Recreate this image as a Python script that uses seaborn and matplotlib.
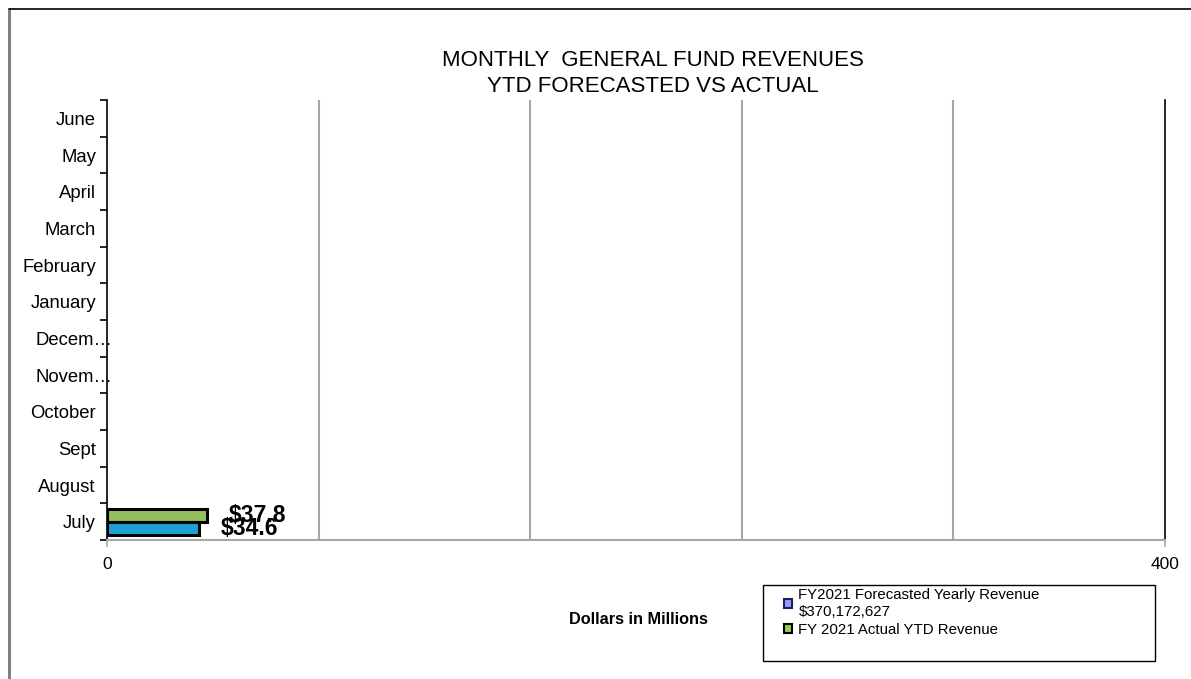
import matplotlib
matplotlib.use("Agg")
import matplotlib.pyplot as plt
import matplotlib.transforms as mtransforms
import seaborn as sns
import pandas as pd
import numpy as np
from matplotlib.patches import Patch, Rectangle

months = ["July", "August", "Sept", "October", "Novem\u2026", "Decem\u2026",
          "January", "February", "March", "April", "May", "June"]
forecast = [34.6, np.nan, np.nan, np.nan, np.nan, np.nan, np.nan, np.nan, np.nan, np.nan, np.nan, np.nan]
actual = [37.8, np.nan, np.nan, np.nan, np.nan, np.nan, np.nan, np.nan, np.nan, np.nan, np.nan, np.nan]
series_forecast = "FY2021 Forecasted Yearly Revenue\n$370,172,627"
series_actual = "FY 2021 Actual YTD Revenue"
x_ticks = [0, 400]

sns.set_theme(style="white")
plt.rcParams['font.family'] = ['Liberation Sans', 'DejaVu Sans']
plt.rcParams['text.color'] = 'black'
plt.rcParams['xtick.color'] = 'black'
plt.rcParams['ytick.color'] = 'black'
plt.rcParams['axes.labelcolor'] = 'black'

df = pd.DataFrame({
    "Month": months * 2,
    "Value": forecast + actual,
    "Series": [series_forecast] * len(months) + [series_actual] * len(months),
})

W, H = 1191, 679
fig = plt.figure(figsize=(W / 100, H / 100), dpi=100)
ax = fig.add_axes([107 / W, 1 - 540 / H, (1165 - 107) / W, (540 - 100) / H])

order = months[::-1]
sns.barplot(data=df, y="Month", x="Value", hue="Series", order=order,
            hue_order=[series_actual, series_forecast],
            palette={series_actual: "#92D050", series_forecast: "#00B0F0"},
            orient="h", width=0.7, edgecolor="black", linewidth=2.2,
            legend=False, ax=ax)

ax.set_xlim(0, 400)
ax.set_ylim(len(months) - 0.5, -0.5)

for gx in [80, 160, 240, 320]:
    ax.axvline(gx, color="#A6A6A6", linewidth=1.5, zorder=0)

ax.set_xticks(x_ticks)
ax.set_xticklabels([str(t) for t in x_ticks], fontsize=12.5)
ax.tick_params(axis="x", length=5, width=1.2, color="#A6A6A6", pad=7, bottom=True, labelcolor="black")
ax.set_yticks(np.arange(len(months)))
ax.set_yticklabels(order, fontsize=13.3)
ax.set_yticks(np.arange(len(months) + 1) - 0.5, minor=True)
ax.tick_params(axis="y", which="major", length=0, pad=8)
ax.tick_params(axis="y", which="minor", length=5, width=1.2, color="black", left=True)

for lab in ax.get_yticklabels():
    if lab.get_text().endswith("\u2026"):
        lab.set_transform(lab.get_transform() +
                          mtransforms.ScaledTranslation(17 / 100, 0, fig.dpi_scale_trans))

ax.spines["top"].set_visible(False)
ax.spines["left"].set_color("black")
ax.spines["left"].set_linewidth(1.2)
ax.spines["right"].set_color("black")
ax.spines["right"].set_linewidth(1.2)
ax.spines["bottom"].set_color("#A6A6A6")
ax.spines["bottom"].set_linewidth(1.5)
ax.set_ylabel("")
ax.set_xlabel("")

for cont in ax.containers:
    for bar in cont:
        w = bar.get_width()
        if np.isnan(w) or w == 0:
            continue
        yc = bar.get_y() + bar.get_height() / 2
        ax.annotate(f"${w:.1f}", xy=(w, yc), xytext=(16, 0), textcoords="offset points",
                    ha="left", va="center", fontsize=16.5, fontweight="bold", color="black")

fig.text(653 / W, 1 - 60 / H, "MONTHLY  GENERAL FUND REVENUES", ha="center", va="center", fontsize=16)
fig.text(653 / W, 1 - 87 / H, "YTD FORECASTED VS ACTUAL", ha="center", va="center", fontsize=16)
fig.text(638 / W, 1 - 620 / H, "Dollars in Millions", ha="center", va="center",
         fontsize=11.7, fontweight="bold")

fig.add_artist(Rectangle((763 / W, 1 - 661 / H), (1155 - 763) / W, (661 - 585) / H,
                         transform=fig.transFigure, facecolor="white", edgecolor="black",
                         linewidth=1.0))
handles = [Patch(facecolor="#9999FF", edgecolor="#1F1F5F", linewidth=1.5, label=series_forecast),
           Patch(facecolor="#92D050", edgecolor="black", linewidth=1.5, label=series_actual)]
leg = fig.legend(handles=handles, loc="upper left",
                 bbox_to_anchor=(779 / W, 1 - 584 / H), frameon=False, fontsize=10.8,
                 handlelength=0.55, handleheight=0.55, handletextpad=0.45, borderpad=0.3,
                 labelspacing=0.3, borderaxespad=0)

fig.add_artist(plt.Line2D([9 / W, 9 / W], [0, 1 - 9 / H], color="#808080", linewidth=2.2,
                          transform=fig.transFigure))
fig.add_artist(plt.Line2D([9 / W, 1], [1 - 9 / H, 1 - 9 / H], color="black", linewidth=1.2,
                          transform=fig.transFigure))

fig.savefig("out.png", dpi=100)
